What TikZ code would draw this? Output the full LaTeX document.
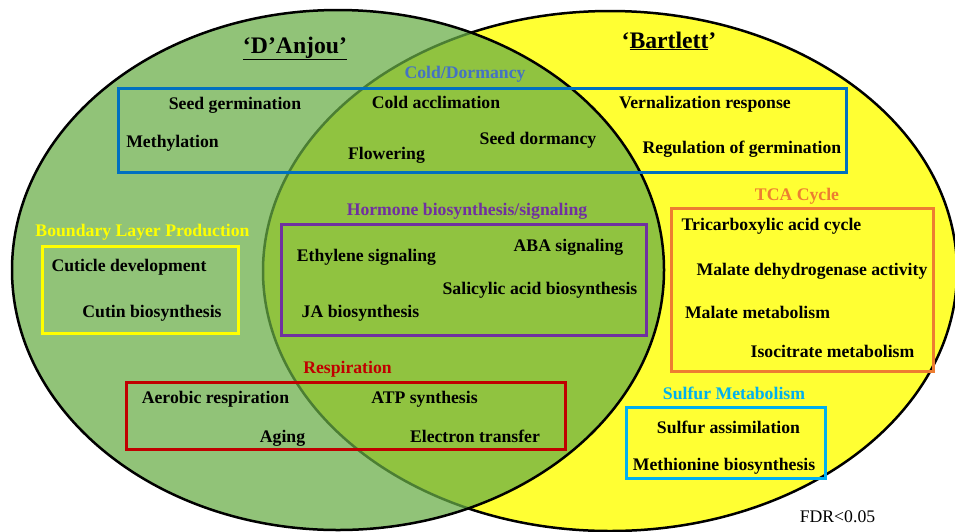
\documentclass[tikz,border=0pt]{standalone}
\usepackage{fontspec}
\setmainfont{Liberation Serif}
\definecolor{anjougreen}{RGB}{104,173,70}
\definecolor{bartlettyellow}{RGB}{255,255,51}
\definecolor{coldblue}{RGB}{0,112,192}
\definecolor{coldlabel}{RGB}{68,114,196}
\definecolor{hormonepurple}{RGB}{112,48,160}
\definecolor{layeryellow}{RGB}{255,255,0}
\definecolor{tcaorange}{RGB}{237,125,49}
\definecolor{respred}{RGB}{192,0,0}
\definecolor{sulfurcyan}{RGB}{0,176,240}
\tikzset{
    term/.style={
           anchor=base,
           inner sep=0pt,
           font=\fontsize{17.7}{20}\selectfont\bfseries,
           },
}
\tikzset{
    cultivar/.style={
           anchor=base,
           inner sep=0pt,
           font=\fontsize{23.7}{28}\selectfont\bfseries,
           },
}
\tikzset{
    framebox/.style={
           line width=3pt,
           },
}

\begin{document}
\begin{tikzpicture}[x=1pt,y=-1pt]
\useasboundingbox (0,0) rectangle (955,531);
% the two cultivars
\draw[line width=2.5pt,fill=bartlettyellow] (610,271) ellipse [x radius=347pt, y radius=260pt];
\draw[line width=2.5pt,fill=anjougreen,fill opacity=0.73] (338,270) ellipse [x radius=326pt, y radius=260pt];
\node[cultivar](anjou) at (295,53){\underline{‘D’Anjou’}};
\node[cultivar](bartlett) at (669,48){‘\underline{Bartlett}’};
% Cold/Dormancy
\draw[framebox,coldblue] (118,88) rectangle (846,172);
\node[term,coldlabel](cold) at (465,78){Cold/Dormancy};
\node[term](seedgerm) at (235,109){Seed germination};
\node[term](methyl) at (172.5,147){Methylation};
\node[term](coldacc) at (436,108){Cold acclimation};
\node[term](flower) at (386.5,159){Flowering};
\node[term](seeddorm) at (538,144){Seed dormancy};
\node[term](vernal) at (705,108){Vernalization response};
\node[term](reggerm) at (742,153){Regulation of germination};
% Boundary Layer Production
\draw[framebox,layeryellow] (42,246) rectangle (238,333);
\node[term,layeryellow](layer) at (142.5,236){Boundary Layer Production};
\node[term](cuticle) at (129,271){Cuticle development};
\node[term](cutin) at (152,317){Cutin biosynthesis};
% Hormone biosynthesis/signaling
\draw[framebox,hormonepurple] (281,224) rectangle (646,335);
\node[term,hormonepurple](hormone) at (467,215){Hormone biosynthesis/signaling};
\node[term](ethylene) at (366.5,261){Ethylene signaling};
\node[term](aba) at (568.5,251){ABA signaling};
\node[term](salicylic) at (540,294){Salicylic acid biosynthesis};
\node[term](ja) at (360.5,317){JA biosynthesis};
% TCA Cycle
\draw[framebox,tcaorange] (671,208) rectangle (933,371);
\node[term,tcaorange](tca) at (797,200){TCA Cycle};
\node[term](tricarb) at (771.5,230){Tricarboxylic acid cycle};
\node[term](malatedh) at (812,275){Malate dehydrogenase activity};
\node[term](malate) at (757.5,318){Malate metabolism};
\node[term](isocit) at (832.5,357){Isocitrate metabolism};
% Respiration
\draw[framebox,respred] (126,382) rectangle (565,449);
\node[term,respred](resp) at (347.5,373){Respiration};
\node[term](aerobic) at (215.5,403){Aerobic respiration};
\node[term](atp) at (424.5,403){ATP synthesis};
\node[term](aging) at (282.5,442){Aging};
\node[term](electron) at (475,442){Electron transfer};
% Sulfur Metabolism
\draw[framebox,sulfurcyan] (626,407) rectangle (825,478);
\node[term,sulfurcyan](sulfur) at (734,399){Sulfur Metabolism};
\node[term](sulfurass) at (728.5,433){Sulfur assimilation};
\node[term](methionine) at (724,470){Methionine biosynthesis};
\node[term,font=\fontsize{17.7}{20}\selectfont](fdr) at (837.5,522){FDR<0.05};
\end{tikzpicture}
\end{document}
